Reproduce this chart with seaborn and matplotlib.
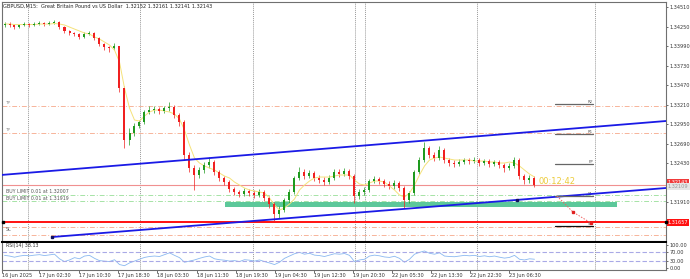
import matplotlib
matplotlib.use("Agg")
import matplotlib.pyplot as plt
from matplotlib.patches import Rectangle
import numpy as np
import pandas as pd
import seaborn as sns

# --- GBPUSD M15 chart (one candle ~ 1 hour) ---
first_open = 1.34270
close = [1.34283, 1.34270, 1.34243, 1.34270, 1.34283, 1.34270, 1.34283, 1.34296, 1.34283, 1.34296,
         1.34310, 1.34243, 1.34190, 1.34163, 1.34150, 1.34110, 1.34150, 1.34163, 1.34096, 1.34016,
         1.33976, 1.33963, 1.33990, 1.33430, 1.32736, 1.32830, 1.32923, 1.32976, 1.33110, 1.33136,
         1.33150, 1.33123, 1.33163, 1.33176, 1.33070, 1.32976, 1.32536, 1.32363, 1.32270, 1.32336,
         1.32403, 1.32443, 1.32310, 1.32230, 1.32176, 1.32083, 1.32043, 1.32016, 1.32056, 1.32030,
         1.32003, 1.32043, 1.31963, 1.31883, 1.31750, 1.31803, 1.31936, 1.32043, 1.32230, 1.32310,
         1.32256, 1.32296, 1.32230, 1.32203, 1.32176, 1.32230, 1.32310, 1.32283, 1.32323, 1.32256,
         1.31990, 1.32043, 1.32070, 1.32190, 1.32216, 1.32190, 1.32150, 1.32123, 1.32163, 1.32096,
         1.31936, 1.32030, 1.32310, 1.32470, 1.32630, 1.32536, 1.32496, 1.32603, 1.32470, 1.32430,
         1.32416, 1.32443, 1.32470, 1.32456, 1.32470, 1.32430, 1.32456, 1.32416, 1.32443, 1.32403,
         1.32363, 1.32390, 1.32470, 1.32256, 1.32203, 1.32230, 1.32143]
high = [1.34310, 1.34310, 1.34283, 1.34283, 1.34310, 1.34296, 1.34310, 1.34323, 1.34310, 1.34323,
        1.34336, 1.34323, 1.34256, 1.34203, 1.34176, 1.34163, 1.34176, 1.34190, 1.34176, 1.34110,
        1.34030, 1.33990, 1.34030, 1.33990, 1.33456, 1.32896, 1.32963, 1.33003, 1.33136, 1.33190,
        1.33190, 1.33176, 1.33190, 1.33243, 1.33203, 1.33096, 1.33003, 1.32576, 1.32403, 1.32376,
        1.32443, 1.32510, 1.32470, 1.32336, 1.32256, 1.32203, 1.32110, 1.32070, 1.32096, 1.32083,
        1.32070, 1.32083, 1.32070, 1.31990, 1.31910, 1.31856, 1.31963, 1.32083, 1.32256, 1.32376,
        1.32350, 1.32336, 1.32323, 1.32270, 1.32243, 1.32270, 1.32350, 1.32350, 1.32363, 1.32350,
        1.32283, 1.32083, 1.32110, 1.32216, 1.32256, 1.32243, 1.32216, 1.32190, 1.32203, 1.32190,
        1.32123, 1.32056, 1.32336, 1.32510, 1.32710, 1.32656, 1.32576, 1.32656, 1.32630, 1.32496,
        1.32470, 1.32483, 1.32496, 1.32496, 1.32510, 1.32496, 1.32483, 1.32483, 1.32470, 1.32470,
        1.32430, 1.32430, 1.32510, 1.32496, 1.32283, 1.32270, 1.32256]
low = [1.34243, 1.34243, 1.34216, 1.34230, 1.34256, 1.34243, 1.34256, 1.34270, 1.34256, 1.34270,
       1.34283, 1.34216, 1.34163, 1.34136, 1.34123, 1.34083, 1.34096, 1.34136, 1.34070, 1.33990,
       1.33936, 1.33910, 1.33936, 1.33376, 1.32630, 1.32670, 1.32790, 1.32896, 1.32950, 1.33083,
       1.33096, 1.33083, 1.33096, 1.33123, 1.33030, 1.32923, 1.32470, 1.32310, 1.32070, 1.32230,
       1.32296, 1.32363, 1.32270, 1.32190, 1.32136, 1.32043, 1.32003, 1.31976, 1.31990, 1.31990,
       1.31963, 1.31976, 1.31923, 1.31830, 1.31643, 1.31696, 1.31776, 1.31896, 1.32016, 1.32203,
       1.32216, 1.32230, 1.32190, 1.32163, 1.32136, 1.32150, 1.32203, 1.32243, 1.32256, 1.32216,
       1.31896, 1.31950, 1.32003, 1.32043, 1.32163, 1.32150, 1.32110, 1.32083, 1.32083, 1.32056,
       1.31830, 1.31896, 1.32003, 1.32283, 1.32443, 1.32496, 1.32456, 1.32470, 1.32430, 1.32390,
       1.32376, 1.32390, 1.32416, 1.32416, 1.32430, 1.32390, 1.32403, 1.32376, 1.32390, 1.32363,
       1.32310, 1.32336, 1.32363, 1.32216, 1.32150, 1.32163, 1.32110]
ma = [1.34283, 1.34283, 1.34276, 1.34276, 1.34276, 1.34276, 1.34276, 1.34283, 1.34283, 1.34283,
      1.34290, 1.34283, 1.34270, 1.34243, 1.34216, 1.34190, 1.34163, 1.34150, 1.34110, 1.34083,
      1.34043, 1.34003, 1.33936, 1.33776, 1.33430, 1.33163, 1.33003, 1.32990, 1.33056, 1.33110,
      1.33136, 1.33136, 1.33123, 1.33110, 1.33083, 1.33016, 1.32870, 1.32670, 1.32496, 1.32430,
      1.32390, 1.32363, 1.32336, 1.32296, 1.32256, 1.32230, 1.32176, 1.32136, 1.32096, 1.32070,
      1.32056, 1.32043, 1.32030, 1.31963, 1.31870, 1.31803, 1.31830, 1.31883, 1.31950, 1.32070,
      1.32136, 1.32190, 1.32230, 1.32243, 1.32243, 1.32243, 1.32256, 1.32270, 1.32270, 1.32270,
      1.32203, 1.32150, 1.32136, 1.32163, 1.32190, 1.32190, 1.32176, 1.32123, 1.32070, 1.32003,
      1.31976, 1.32030, 1.32136, 1.32270, 1.32390, 1.32470, 1.32496, 1.32510, 1.32496, 1.32483,
      1.32470, 1.32470, 1.32470, 1.32470, 1.32456, 1.32456, 1.32456, 1.32443, 1.32443, 1.32430,
      1.32430, 1.32443, 1.32430, 1.32390, 1.32336, 1.32283, 1.32243]
rsi = [55, 52, 47, 52, 55, 53, 56, 58, 54, 57, 60, 40, 28, 35, 45, 40, 52, 55, 42, 32,
       30, 28, 36, 15, 10, 22, 30, 38, 46, 50, 52, 50, 58, 66, 55, 45, 25, 30, 35, 42,
       48, 52, 40, 36, 34, 30, 32, 28, 36, 34, 30, 35, 28, 22, 15, 25, 42, 52, 62, 68,
       60, 64, 56, 54, 50, 56, 62, 60, 63, 55, 28, 35, 38, 52, 56, 53, 48, 46, 51, 42,
       25, 38, 60, 68, 74, 64, 60, 66, 52, 50, 49, 52, 55, 53, 55, 50, 53, 49, 52, 47,
       43, 46, 55, 38, 35, 40, 38.13]

# horizontal levels / objects
tp_levels = [1.33190, 1.32830]
buy_limits = [1.32007, 1.31919]
bid = 1.32143
sl_level = 1.31637
sl_extra = [1.31577, 1.31470]
zone_low, zone_high = 1.31843, 1.31910
zone_start, zone_end = 44.1, 122.5
upper_ch = [(34, 1.32458), (85, 1.32734)]
lower_ch = [(9.5, 1.31443), (102.5, 1.31938)]
pivot_levels = [1.33216, 1.32816, 1.32416, 1.31990, 1.31590]
pivot_span = (110.1, 117.7)
trade_path = [(110.5, 1.31990), (113.7, 1.31776), (117.3, 1.31630)]
separators = [4.7, 27.1, 49.7, 70.1, 72.1, 94.5, 118.1]

price_ticks = [1.34510, 1.34250, 1.33990, 1.33730, 1.33470, 1.33210, 1.32950, 1.32690, 1.32430, 1.31910]
time_pos = [-0.5, 6.9, 14.9, 22.7, 30.5, 38.5, 46.3, 54.1, 61.9, 69.7, 77.5, 85.3, 93.1, 100.9]
time_labels = ["16 Jun 2025", "17 Jun 02:30", "17 Jun 10:30", "17 Jun 18:30", "18 Jun 03:30",
               "18 Jun 11:30", "18 Jun 19:30", "19 Jun 04:30", "19 Jun 12:30", "19 Jun 20:30",
               "22 Jun 05:30", "22 Jun 13:30", "22 Jun 22:30", "23 Jun 06:30"]

sns.set_theme(style="white")
plt.rcParams['font.family'] = ['DejaVu Sans']

W, H = 690, 279
fig = plt.figure(figsize=(W / 100, H / 100), dpi=100, facecolor="white")
ax = fig.add_axes([2 / W, (H - 242) / H, 664 / W, 240 / H])
ax_rsi = fig.add_axes([2 / W, (H - 270) / H, 664 / W, 27 / H], sharex=ax)

df = pd.DataFrame({"close": close, "high": high, "low": low, "ma": ma, "rsi": rsi})
df["open"] = [first_open] + close[:-1]
df["idx"] = np.arange(len(df))

# separators
for s in separators:
    ax.axvline(s, color="#9a9a9a", lw=0.7, ls=(0, (1, 1)), zorder=1)
    ax_rsi.axvline(s, color="#9a9a9a", lw=0.7, ls=(0, (1, 1)), zorder=1)

# levels
for lv in tp_levels:
    ax.axhline(lv, color="#f7b49a", lw=0.7, ls=(0, (5, 2, 1, 2)), zorder=1)
for lv in buy_limits:
    ax.axhline(lv, color="#a6e3a6", lw=0.7, ls=(0, (5, 2, 1, 2)), zorder=1)
for lv in sl_extra:
    ax.axhline(lv, color="#f7b49a", lw=0.7, ls=(0, (5, 2, 1, 2)), zorder=1)
ax.axhline(bid, color="#f09090", lw=0.8, zorder=1)
ax.axhline(sl_level, color="#ff1010", lw=1.4, zorder=2)

ax.add_patch(Rectangle((zone_start, zone_low), zone_end - zone_start, zone_high - zone_low,
                       facecolor="#5cc89a", edgecolor="none", zorder=2))

# candles
up = df["close"] >= df["open"]
for is_up, col in [(True, "#1e9a1e"), (False, "#f02020")]:
    d = df[up == is_up]
    ax.vlines(d["idx"], d["low"], d["high"], color=col, lw=0.5, zorder=3)
    body = (d["close"] - d["open"]).abs().clip(lower=0.00004)
    ax.bar(d["idx"], body, bottom=np.minimum(d["open"], d["close"]), width=0.4,
           color=col, linewidth=0, zorder=4)

sns.lineplot(data=df, x="idx", y="ma", ax=ax, color="#f5e27a", lw=0.7, zorder=3)

# channel
(x1, y1), (x2, y2) = upper_ch
ax.axline((x1, y1), (x2, y2), color="#1a1ae6", lw=1.3, zorder=5)
(x1, y1), (x2, y2) = lower_ch
slope = (y2 - y1) / (x2 - x1)
ax.plot([x1, 140], [y1, y1 + slope * (140 - x1)], color="#1a1ae6", lw=1.3, zorder=5)
ax.plot([x1, x2], [y1, y2], ls="none", marker="s", ms=2, color="#101060", zorder=6)

# right side objects
for i, lv in enumerate(pivot_levels):
    ax.plot(pivot_span, [lv, lv], color="#111111" if i == 4 else "#666666", lw=0.9, zorder=5)
tx, ty = zip(*trade_path)
ax.plot(tx, ty, color="#f06060", lw=0.7, ls=(0, (1.5, 1.5)), zorder=5)
ax.plot(tx[1:], ty[1:], ls="none", marker="s", ms=1.5, color="#e02020", zorder=6)

ax.set_xlim(-0.5, 132.3)
ax.set_ylim(1.313767, 1.345767)
ax.yaxis.tick_right()
ax.set_yticks(price_ticks)
ax.set_yticklabels([f"{v:.5f}" for v in price_ticks])
ax.tick_params(axis="y", labelsize=3.6, length=1.5, width=0.5, pad=1, colors="#333333")
ax.tick_params(axis="x", bottom=False, labelbottom=False)
ax.set_xlabel("")
ax.set_ylabel("")
for side in ["left", "top", "right"]:
    ax.spines[side].set_color("#707070")
    ax.spines[side].set_linewidth(0.8)
ax.spines["bottom"].set_color("black")
ax.spines["bottom"].set_linewidth(1.5)

# price boxes on the axis
ytr = ax.get_yaxis_transform()
ax.text(1.003, bid + 0.00025, f"{bid:.5f}", transform=ytr, fontsize=3.6, color="white", va="center",
        bbox=dict(boxstyle="square,pad=0.2", fc="#f03a3a", ec="none"))
ax.text(1.003, bid - 0.00030, "1.32109", transform=ytr, fontsize=3.6, color="#999999", va="center",
        bbox=dict(boxstyle="square,pad=0.2", fc="#e6e6e6", ec="none"))
ax.text(1.003, sl_level, "1.31657", transform=ytr, fontsize=3.6, color="white", va="center",
        bbox=dict(boxstyle="square,pad=0.2", fc="#ff1010", ec="none"))
ax.plot([132.3], [sl_level], marker="s", ms=2, color="black", clip_on=False, zorder=7)
ax.plot([-0.3], [sl_level + 0.00008], marker="s", ms=2, color="black", clip_on=False, zorder=7)

# texts
ax.text(-0.3, 1.34603 - 6 / 7500, "GBPUSD,M15:  Great Britain Pound vs US Dollar  1.32152 1.32161 1.32141 1.32143",
        fontsize=3.6, color="#222222", va="center", ha="left")
for lv in tp_levels:
    ax.text(0.2, lv + 0.00012, "TP", fontsize=3, color="#888888", va="bottom")
ax.text(0.2, buy_limits[0] + 0.00004, "BUY LIMIT 0.01 at 1.32007", fontsize=3.4, color="#555555", va="bottom")
ax.text(0.2, buy_limits[1] + 0.00004, "BUY LIMIT 0.01 at 1.31919", fontsize=3.4, color="#555555", va="bottom")
ax.text(0.2, sl_extra[0] - 0.00004, "SL", fontsize=3.4, color="#555555", va="top")
ax.text(106.8, bid + 0.00040, "00:12:42", fontsize=6, color="#eccb3a", va="center")
for lv, lab in zip(pivot_levels, ["R2", "R1", "PP", "S1", "S2"]):
    ax.text(pivot_span[1], lv + 0.00003, lab, fontsize=2.8, color="#555555", ha="right", va="bottom")

# RSI window
sns.lineplot(data=df, x="idx", y="rsi", ax=ax_rsi, color="#8ab8f0", lw=0.6)
for lv in [70, 30]:
    ax_rsi.axhline(lv, color="#a9a9e6", lw=0.8, ls=(0, (4, 2)))
ax_rsi.set_ylim(-8.7, 108.7)
ax_rsi.yaxis.tick_right()
ax_rsi.set_yticks([0, 30, 70, 100])
ax_rsi.set_yticklabels(["0.00", "30.00", "70.00", "100.00"])
ax_rsi.tick_params(axis="y", labelsize=3.6, length=1.5, width=0.5, pad=1, colors="#333333")
ax_rsi.set_xticks(time_pos)
ax_rsi.set_xticklabels(time_labels, ha="left")
ax_rsi.tick_params(axis="x", labelsize=3.6, length=2, width=0.5, pad=0.5, colors="#333333", bottom=True)
ax_rsi.set_xlabel("")
ax_rsi.set_ylabel("")
ax_rsi.spines["top"].set_visible(False)
for side in ["left", "bottom", "right"]:
    ax_rsi.spines[side].set_color("#707070")
    ax_rsi.spines[side].set_linewidth(0.8)
ax_rsi.text(0.2, 96, "RSI(14) 38.13", fontsize=3.4, color="#333333", va="center")

fig.savefig("out.png", dpi=100, facecolor="white")
